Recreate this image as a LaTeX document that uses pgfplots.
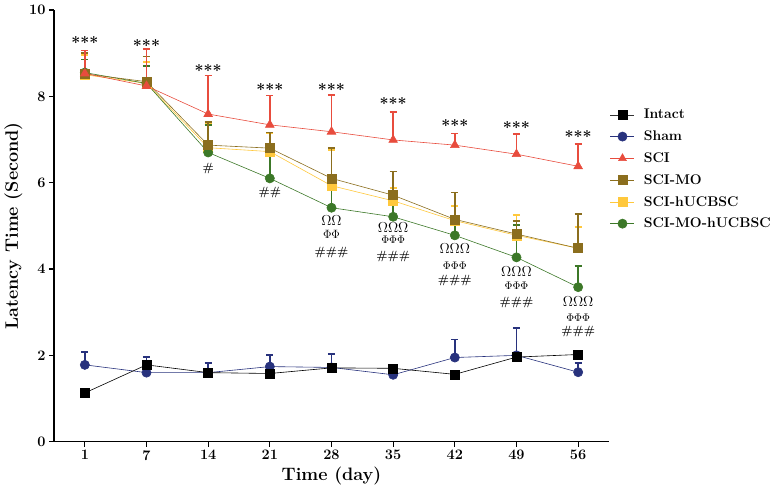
\documentclass[border=0pt]{standalone}
\usepackage{pgfplots}
\pgfplotsset{compat=1.18}
\definecolor{cred}{RGB}{232,76,61}
\definecolor{colive}{RGB}{139,110,30}
\definecolor{cyellow}{RGB}{255,200,60}
\definecolor{cgreen}{RGB}{60,120,40}
\definecolor{cnavy}{RGB}{40,50,125}
\pgfplotsset{errb/.style={error bars/.cd, y dir=plus, y explicit,
  error bar style={line width=1.8pt},
  error mark=|,
  error mark options={line width=1.7pt, mark size=3.5pt}}}
\pgfplotstableread{
x y e
0 1.13 0.04
1 1.78 0.04
2 1.60 0.04
3 1.58 0.04
4 1.71 0.04
5 1.70 0.04
6 1.56 0.04
7 1.96 0.04
8 2.02 0.04
}\intact
\pgfplotstableread{
x y e
0 1.78 0.30
1 1.60 0.37
2 1.60 0.23
3 1.74 0.27
4 1.72 0.31
5 1.55 0.10
6 1.95 0.42
7 2.00 0.63
8 1.61 0.21
}\sham
\pgfplotstableread{
x y e
0 8.53 0.53
1 8.24 0.85
2 7.59 0.89
3 7.34 0.68
4 7.18 0.85
5 6.99 0.64
6 6.87 0.27
7 6.66 0.47
8 6.38 0.52
}\sci
\pgfplotstableread{
x y e
0 8.52 0.48
1 8.34 0.58
2 6.87 0.54
3 6.80 0.36
4 6.10 0.70
5 5.71 0.55
6 5.15 0.62
7 4.81 0.30
8 4.48 0.80
}\scimo
\pgfplotstableread{
x y e
0 8.50 0.45
1 8.30 0.50
2 6.81 0.55
3 6.72 0.42
4 5.93 0.83
5 5.58 0.29
6 5.12 0.34
7 4.78 0.47
8 4.48 0.50
}\scihu
\pgfplotstableread{
x y e
0 8.55 0.30
1 8.30 0.40
2 6.70 0.63
3 6.10 0.60
4 5.42 0.60
5 5.21 0.45
6 4.78 0.35
7 4.27 0.75
8 3.58 0.49
}\scimohu
\begin{document}
\begin{tikzpicture}
\path[use as bounding box] (-54pt,-54.3pt) rectangle (723pt,441.7pt);
\begin{axis}[
  at={(0,0)}, anchor=south west,
  scale only axis, width=555pt, height=431.7pt,
  xmin=-0.5, xmax=8.5, ymin=0, ymax=10,
  axis x line*=bottom, axis y line*=left,
  axis line style={line width=1.3pt, black},
  xtick={0,...,8}, xticklabels={1,7,14,21,28,35,42,49,56},
  ytick={0,2,...,10},
  tick align=outside, major tick length=5pt,
  tick style={line width=1.2pt, black},
  ticklabel style={font=\bfseries\fontsize{14.5}{14.5}\selectfont},
  /pgf/number format/assume math mode=true,
  xlabel={Time (day)}, ylabel={Latency Time (Second)},
  label style={font=\bfseries\fontsize{18}{18}\selectfont},
  legend style={at={(rel axis cs:1,0.775)}, anchor=north west, xshift=1pt,
    draw=none, fill=none, font=\bfseries\fontsize{14}{14}\selectfont,
    row sep=6.5pt, inner xsep=0pt, inner ysep=0pt,
    /tikz/every odd column/.append style={column sep=7pt}},
  legend cell align=left,
  legend image code/.code={\draw[mark repeat=2,mark phase=2] plot coordinates {(0pt,0pt) (12pt,0pt) (24pt,0pt)};},
]
\addlegendimage{black!80, line width=0.6pt, mark=square*, mark size=4.5pt, mark options={black}}
\addlegendentry{Intact}
\addlegendimage{cnavy, line width=0.6pt, mark=*, mark size=4.6pt}
\addlegendentry{Sham}
\addlegendimage{cred, line width=0.6pt, mark=triangle*, mark size=4.5pt}
\addlegendentry{SCI}
\addlegendimage{colive, line width=0.6pt, mark=square*, mark size=4.5pt}
\addlegendentry{SCI-MO}
\addlegendimage{cyellow, line width=0.6pt, mark=square*, mark size=4.5pt}
\addlegendentry{SCI-hUCBSC}
\addlegendimage{cgreen, line width=0.6pt, mark=*, mark size=4.6pt}
\addlegendentry{SCI-MO-hUCBSC}

\addplot[cnavy, line width=0.6pt, mark=*, mark size=4.6pt, forget plot, errb] table[x=x,y=y,y error=e] {\sham};
\addplot[black, line width=0.6pt, mark=square*, mark size=4.5pt, forget plot, errb] table[x=x,y=y,y error=e] {\intact};
\addplot[cyellow, line width=0.6pt, mark=square*, mark size=4.5pt, forget plot, errb] table[x=x,y=y,y error=e] {\scihu};
\addplot[cgreen, line width=0.6pt, mark=*, mark size=4.6pt, forget plot, errb] table[x=x,y=y,y error=e] {\scimohu};
\addplot[colive, line width=0.6pt, mark=square*, mark size=4.5pt, forget plot, errb] table[x=x,y=y,y error=e] {\scimo};
\addplot[cred, line width=0.6pt, mark=triangle*, mark size=5pt, forget plot, errb] table[x=x,y=y,y error=e] {\sci};

% significance stars
\begin{scope}[every node/.style={font=\bfseries\fontsize{16}{16}\selectfont, yshift=-2.6pt}]
\node at (axis cs:0,9.30) {***};
\node at (axis cs:1,9.24) {***};
\node at (axis cs:2,8.67) {***};
\node at (axis cs:3,8.22) {***};
\node at (axis cs:4,8.21) {***};
\node at (axis cs:5,7.89) {***};
\node at (axis cs:6,7.39) {***};
\node at (axis cs:7,7.34) {***};
\node at (axis cs:8,7.14) {***};
\end{scope}
% hash / Omega / Phi annotations
\begin{scope}[every node/.style={font=\bfseries\fontsize{12}{12}\selectfont, inner sep=0pt}]
\node at (axis cs:2,6.33) {\#};
\node at (axis cs:3,5.77) {\#\#};
\node at (axis cs:4,4.39) {\#\#\#};
\node at (axis cs:5,4.30) {\#\#\#};
\node at (axis cs:6,3.73) {\#\#\#};
\node at (axis cs:7,3.22) {\#\#\#};
\node at (axis cs:8,2.55) {\#\#\#};
\node[font=\fontsize{14}{14}\selectfont] at (axis cs:4,5.12) {$\Omega\Omega$};
\node[font=\fontsize{14}{14}\selectfont] at (axis cs:5,4.97) {$\Omega\Omega\Omega$};
\node[font=\fontsize{14}{14}\selectfont] at (axis cs:6,4.48) {$\Omega\Omega\Omega$};
\node[font=\fontsize{14}{14}\selectfont] at (axis cs:7,3.94) {$\Omega\Omega\Omega$};
\node[font=\fontsize{14}{14}\selectfont] at (axis cs:8,3.24) {$\Omega\Omega\Omega$};
\node[font=\fontsize{13}{13}\selectfont] at (axis cs:4,4.81) {$\Phi\Phi$};
\node[font=\fontsize{11}{11}\selectfont] at (axis cs:5,4.67) {$\Phi\Phi\Phi$};
\node[font=\fontsize{11}{11}\selectfont] at (axis cs:6,4.08) {$\Phi\Phi\Phi$};
\node[font=\fontsize{11}{11}\selectfont] at (axis cs:7,3.61) {$\Phi\Phi\Phi$};
\node[font=\fontsize{11}{11}\selectfont] at (axis cs:8,2.86) {$\Phi\Phi\Phi$};
\end{scope}
\end{axis}
\end{tikzpicture}
\end{document}
